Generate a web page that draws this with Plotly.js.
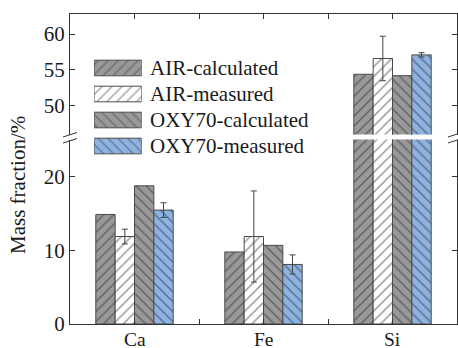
<!DOCTYPE html>
<html>
<head>
<meta charset="utf-8">
<script src="https://cdn.plot.ly/plotly-3.0.1.min.js"></script>
<style>html,body{margin:0;padding:0;background:#fff;}#chart{width:458px;height:348px;}</style>
</head>
<body>
<div id="chart"></div>
<script>
// ---- data ----
const categories = ['Ca', 'Fe', 'Si'];
const seriesNames = ['AIR-calculated', 'AIR-measured', 'OXY70-calculated', 'OXY70-measured'];
const airCalc = [14.9, 9.8, 54.4];
const airMeas = [11.9, 11.9, 56.6];
const airMeasErr = [1.0, 6.2, 3.1];
const oxyCalc = [18.8, 10.7, 54.2];
const oxyMeas = [15.5, 8.1, 57.1];
const oxyMeasErr = [1.0, 1.3, 0.3];
const lowerTicks = [0, 10, 20];
const upperTicks = [50, 55, 60];

// ---- styles ----
const FONT = 'Liberation Serif, Times New Roman, serif';
const TXT = '#1a1a1a';
const LINE = '#333';
const FS = 21;
const styles = [
  {bg: '#999999', shape: '/'},
  {bg: '#ffffff', shape: '/'},
  {bg: '#999999', shape: '\\'},
  {bg: '#8db3e2', shape: '\\'}
];
const values = [airCalc, airMeas, oxyCalc, oxyMeas];
const errs = [null, airMeasErr, null, oxyMeasErr];
const xIdx = categories.map((c, i) => i);

function pattern(s) {
  return {shape: s.shape, bgcolor: s.bg, fgcolor: '#262626', size: 7, solidity: 0.2, fillmode: 'overlay'};
}

const traces = [];
[['x', 'y'], ['x2', 'y2']].forEach(([xa, ya]) => {
  values.forEach((v, k) => {
    const t = {
      type: 'bar', x: xIdx, y: v, name: seriesNames[k], xaxis: xa, yaxis: ya,
      showlegend: false, hoverinfo: 'skip',
      marker: {color: styles[k].bg, pattern: pattern(styles[k]), line: {color: '#4a4a4a', width: 1}}
    };
    if (errs[k]) {
      t.error_y = {type: 'data', array: errs[k], visible: true, color: '#444', thickness: 1, width: 3};
    }
    traces.push(t);
  });
});

// legend swatches (custom, drawn as horizontal bars in a hidden mini-subplot)
traces.push({
  type: 'bar', orientation: 'h', x: seriesNames.map(() => 1), y: seriesNames.map((n, i) => i),
  xaxis: 'x3', yaxis: 'y3', showlegend: false, hoverinfo: 'skip',
  marker: {
    color: styles.map(s => s.bg),
    line: {color: '#4a4a4a', width: 1},
    pattern: {
      shape: styles.map(s => s.shape), bgcolor: styles.map(s => s.bg),
      fgcolor: '#262626', size: 7, solidity: 0.2, fillmode: 'overlay'
    }
  }
});

// pixel -> paper helpers (plot area: x 70..457, y 14..324)
const L = 70, R = 457, T = 14, B = 324;
const px = v => (v - L) / (R - L);
const py = v => (B - v) / (B - T);

const breakLines = [
  [63, 137, 77, 132.5], [63, 143, 77, 138.5],
  [448, 137, 462, 132.5], [448, 143, 462, 138.5]
];
const shapes = breakLines.map(([x0, y0, x1, y1]) => ({
  type: 'line', xref: 'paper', yref: 'paper',
  x0: px(x0), y0: py(y0), x1: px(x1), y1: py(y1),
  line: {color: LINE, width: 1}
}));

const annotations = seriesNames.map((n, i) => ({
  text: n, xref: 'paper', yref: 'y3', x: px(147.5), y: i, xanchor: 'left', yanchor: 'middle',
  showarrow: false, font: {family: FONT, size: FS, color: TXT}
}));
annotations.push({
  text: 'Mass fraction/%', xref: 'paper', yref: 'paper', x: px(18), y: py(185),
  xanchor: 'center', yanchor: 'middle', textangle: -90, showarrow: false,
  font: {family: FONT, size: FS, color: TXT}
});
// category labels under the bottom axis
categories.forEach((c, i) => annotations.push({
  text: c, xref: 'x', yref: 'paper', x: i, y: py(339), xanchor: 'center', yanchor: 'middle',
  height: 18, borderpad: 0, valign: 'middle',
  showarrow: false, font: {family: FONT, size: 19.5, color: TXT}
}));

const yCommon = {
  showline: true, linecolor: LINE, linewidth: 1, ticks: 'inside', ticklen: 5, tickcolor: LINE,
  mirror: 'ticks', showgrid: false, zeroline: false, fixedrange: true,
  tickfont: {family: FONT, size: FS, color: TXT}
};

const layout = {
  width: 458, height: 348,
  margin: {l: L, r: 458 - R, t: T, b: 348 - B, pad: 0},
  paper_bgcolor: '#fff', plot_bgcolor: 'rgba(0,0,0,0)',
  barmode: 'group', bargap: 0.4, bargroupgap: 0,
  showlegend: false,
  xaxis: {
    anchor: 'y', domain: [0, 1], range: [-0.5, 2.5],
    tickvals: xIdx, showticklabels: false,
    showline: true, linecolor: LINE, linewidth: 1, ticks: 'inside', ticklen: 5, tickcolor: LINE,
    minor: {tickvals: [0.5, 1.5], ticks: 'inside', ticklen: 5, tickcolor: LINE},
    showgrid: false, zeroline: false
  },
  xaxis2: {
    anchor: 'y2', domain: [0, 1], range: [-0.5, 2.5], side: 'top', matches: 'x',
    tickvals: xIdx, showticklabels: false,
    showline: true, linecolor: LINE, linewidth: 1, ticks: 'inside', ticklen: 5, tickcolor: LINE,
    minor: {tickvals: [0.5, 1.5], ticks: 'inside', ticklen: 5, tickcolor: LINE},
    showgrid: false, zeroline: false
  },
  yaxis: Object.assign({}, yCommon, {anchor: 'x', domain: [0, py(139.5)], range: [0, 25.1], tickvals: lowerTicks}),
  yaxis2: Object.assign({}, yCommon, {anchor: 'x2', domain: [py(134.5), 1], range: [46.0, 62.8], tickvals: upperTicks}),
  xaxis3: {anchor: 'y3', domain: [px(94), px(141.7)], range: [0, 1], visible: false, fixedrange: true},
  yaxis3: {anchor: 'x3', domain: [py(159), py(55)], range: [3.5, -0.5], visible: false, fixedrange: true},
  shapes: shapes,
  annotations: annotations
};

Plotly.newPlot('chart', traces, layout, {staticPlot: true, displayModeBar: false});
</script>
</body>
</html>
